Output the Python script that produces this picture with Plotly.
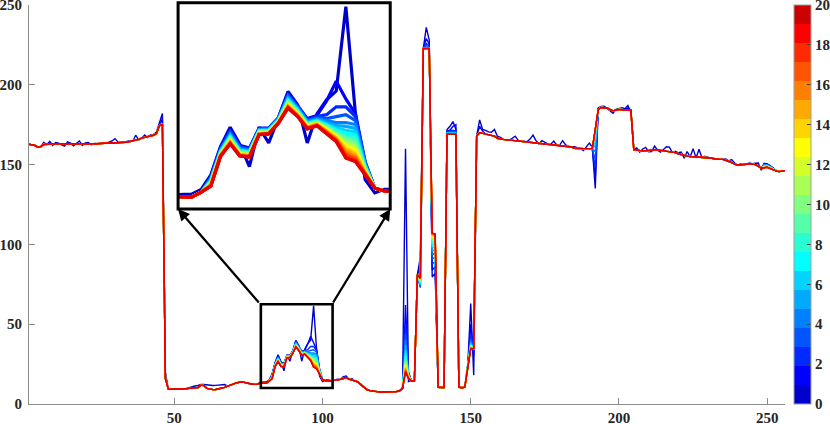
import plotly.graph_objects as go

# ---------------- data ----------------
X_VALUES = list(range(1, 257))

# final iteration (iteration 20, red line)
FINAL_SERIES = [
    162.8, 162.6, 162.0, 160.9, 161.3, 162.6, 163.0, 163.0, 163.1, 163.0,
    163.0, 163.1, 163.0, 163.0, 163.1, 163.0, 163.0, 163.0, 163.0, 163.1,
    163.0, 163.0, 163.1, 163.1, 163.2, 163.4, 163.5, 163.6, 163.6, 163.5,
    163.6, 163.8, 164.0, 164.2, 164.5, 164.8, 165.2, 165.8, 166.6, 167.2,
    167.6, 168.0, 168.4, 169.5, 174.5, 175.0, 16.0, 9.3, 9.2, 9.2,
    9.2, 9.3, 9.3, 9.6, 9.9, 10.0, 10.1, 10.3, 11.8, 11.5,
    9.8, 9.2, 9.0, 9.1, 9.4, 9.7, 10.4, 11.2, 12.0, 12.6,
    13.2, 13.6, 13.8, 13.4, 12.8, 12.5, 12.3, 12.4, 13.2, 13.2,
    13.0, 14.3, 15.8, 23.4, 26.6, 23.5, 23.2, 28.9, 29.1, 31.8,
    35.7, 33.5, 30.4, 31.2, 29.3, 27.2, 23.0, 22.1, 18.7, 15.3,
    14.6, 14.4, 14.4, 14.8, 15.0, 15.4, 16.0, 16.5, 15.6, 14.9,
    14.3, 13.8, 12.0, 10.2, 9.0, 8.4, 8.0, 7.8, 7.6, 7.5,
    7.5, 7.5, 7.5, 7.6, 7.8, 8.2, 9.6, 20.0, 16.0, 14.6,
    14.5, 81.0, 79.0, 222.7, 222.7, 222.7, 107.0, 106.5, 10.5, 10.2,
    10.3, 169.0, 169.0, 169.0, 169.0, 10.5, 10.2, 10.5, 24.0, 34.7,
    34.7, 168.0, 170.0, 169.5, 169.0, 168.6, 168.3, 167.8, 166.5, 166.0,
    165.8, 165.6, 165.4, 165.3, 165.2, 165.0, 164.8, 164.6, 164.4, 164.2,
    164.0, 163.8, 163.6, 163.4, 163.2, 163.0, 162.8, 162.6, 162.4, 162.2,
    161.6, 161.5, 161.5, 161.0, 160.2, 160.0, 160.0, 160.0, 160.0, 160.0,
    160.0, 172.0, 184.5, 185.8, 185.8, 185.5, 184.4, 183.7, 184.2, 184.6,
    184.4, 184.4, 184.4, 184.2, 159.4, 159.0, 158.8, 158.7, 158.6, 158.8,
    159.1, 159.4, 159.2, 158.9, 158.7, 158.6, 158.3, 158.0, 157.5, 156.8,
    156.2, 155.6, 155.3, 155.1, 155.0, 154.9, 154.7, 154.6, 154.5, 154.4,
    154.1, 153.7, 153.3, 153.3, 153.3, 152.8, 152.1, 151.2, 150.2, 149.6,
    149.9, 150.2, 150.3, 150.4, 150.3, 150.0, 149.0, 147.7, 148.0, 148.3,
    147.5, 146.6, 146.1, 145.6, 145.8, 146.2,
]

# values of iterations 0..19 at the positions where the iterations differ
ITERATION_PROFILES = {
    83: [18.7, 18.4, 18.1, 17.9, 17.7, 17.5, 17.3, 17.1, 17.0, 16.9, 16.7, 16.6, 16.5, 16.4, 16.3, 16.2, 16.1, 16.0, 15.9, 15.85],
    84: [25.9, 25.6, 25.4, 25.2, 25.0, 24.8, 24.7, 24.5, 24.4, 24.3, 24.2, 24.1, 24.0, 23.9, 23.8, 23.7, 23.6, 23.5, 23.45, 23.4],
    85: [30.8, 30.2, 29.8, 29.4, 29.1, 28.8, 28.6, 28.4, 28.2, 28.0, 27.8, 27.6, 27.5, 27.3, 27.2, 27.0, 26.9, 26.8, 26.7, 26.6],
    86: [26.5, 26.2, 25.9, 25.6, 25.4, 25.2, 25.0, 24.8, 24.6, 24.5, 24.4, 24.3, 24.1, 24.0, 23.9, 23.8, 23.7, 23.6, 23.55, 23.5],
    87: [20.8, 25.5, 25.3, 25.1, 24.9, 24.8, 24.6, 24.5, 24.4, 24.2, 24.1, 24.0, 23.9, 23.8, 23.7, 23.6, 23.5, 23.4, 23.3, 23.2],
    88: [30.8, 30.6, 30.4, 30.3, 30.2, 30.1, 30.0, 29.9, 29.8, 29.7, 29.6, 29.5, 29.4, 29.3, 29.2, 29.15, 29.1, 29.0, 28.95, 28.9],
    89: [26.8, 30.6, 30.5, 30.4, 30.3, 30.2, 30.1, 30.0, 29.9, 29.8, 29.7, 29.6, 29.5, 29.45, 29.4, 29.3, 29.25, 29.2, 29.15, 29.1],
    90: [33.2, 33.2, 33.1, 33.0, 32.9, 32.8, 32.7, 32.6, 32.5, 32.4, 32.3, 32.2, 32.1, 32.05, 32.0, 31.95, 31.9, 31.85, 31.8, 31.8],
    91: [39.9, 39.5, 39.1, 38.8, 38.5, 38.2, 37.9, 37.7, 37.5, 37.3, 37.1, 36.9, 36.7, 36.5, 36.4, 36.2, 36.1, 35.9, 35.8, 35.7],
    92: [36.5, 36.3, 36.1, 35.9, 35.7, 35.5, 35.3, 35.1, 34.9, 34.8, 34.6, 34.5, 34.3, 34.2, 34.0, 33.9, 33.8, 33.7, 33.6, 33.5],
    93: [26.8, 33.0, 32.7, 32.5, 32.3, 32.1, 31.9, 31.8, 31.6, 31.5, 31.4, 31.3, 31.1, 31.0, 30.9, 30.8, 30.7, 30.6, 30.5, 30.4],
    94: [34.2, 33.8, 33.5, 33.2, 33.0, 32.8, 32.6, 32.4, 32.3, 32.2, 32.0, 31.9, 31.8, 31.7, 31.6, 31.5, 31.4, 31.35, 31.3, 31.2],
    95: [37.8, 37.5, 34.0, 33.0, 32.5, 32.0, 31.7, 31.4, 31.2, 31.0, 30.8, 30.6, 30.4, 30.2, 30.0, 29.9, 29.7, 29.6, 29.4, 29.3],
    96: [40.0, 42.5, 36.0, 33.5, 32.0, 31.2, 30.6, 30.1, 29.7, 29.4, 29.1, 28.8, 28.6, 28.4, 28.2, 28.0, 27.8, 27.6, 27.4, 27.2],
    97: [61.5, 38.0, 36.0, 34.0, 32.0, 31.0, 30.0, 29.3, 28.7, 28.1, 27.5, 27.0, 26.5, 26.0, 25.5, 25.0, 24.5, 24.0, 23.5, 23.0],
    98: [34.0, 34.2, 33.5, 32.5, 31.5, 30.5, 29.6, 28.8, 28.0, 27.3, 26.6, 26.0, 25.4, 24.8, 24.3, 23.8, 23.3, 22.9, 22.5, 22.1],
    99: [17.5, 22.0, 21.8, 21.6, 21.4, 21.2, 21.0, 20.8, 20.6, 20.4, 20.2, 20.0, 19.8, 19.6, 19.4, 19.3, 19.1, 19.0, 18.8, 18.7],
    128: [160.0, 62.0, 50.0, 44.0, 40.0, 37.0, 34.0, 32.0, 30.0, 28.5, 27.0, 26.0, 25.0, 24.0, 23.0, 22.5, 21.8, 21.2, 20.6, 20.0],
    129: [14.0, 20.0, 19.5, 19.0, 18.8, 18.5, 18.2, 18.0, 17.8, 17.6, 17.4, 17.2, 17.0, 16.8, 16.6, 16.5, 16.3, 16.2, 16.1, 16.0],
    133: [92.0, 86.0, 73.0, 73.5, 74.0, 74.5, 75.0, 75.5, 76.0, 76.4, 76.8, 77.2, 77.5, 77.8, 78.1, 78.3, 78.5, 78.7, 78.9, 79.0],
    135: [236.0, 229.0, 226.0, 224.5, 223.6, 223.2, 223.0, 222.9, 222.8, 222.8, 222.7, 222.7, 222.7, 222.7, 222.7, 222.7, 222.7, 222.7, 222.7, 222.7],
    136: [228.0, 225.5, 224.2, 223.5, 223.1, 222.9, 222.8, 222.8, 222.7, 222.7, 222.7, 222.7, 222.7, 222.7, 222.7, 222.7, 222.7, 222.7, 222.7, 222.7],
    137: [79.6, 84.0, 88.0, 91.0, 94.0, 96.0, 98.0, 99.5, 100.8, 102.0, 103.0, 103.8, 104.5, 105.0, 105.5, 106.0, 106.3, 106.6, 106.8, 107.0],
    138: [82.0, 86.0, 89.0, 92.0, 94.5, 96.5, 98.2, 99.7, 101.0, 102.0, 103.0, 103.7, 104.3, 104.8, 105.3, 105.7, 106.0, 106.2, 106.4, 106.5],
    142: [172.0, 171.0, 170.5, 170.2, 170.0, 169.8, 169.6, 169.5, 169.4, 169.3, 169.2, 169.2, 169.1, 169.1, 169.0, 169.0, 169.0, 169.0, 169.0, 169.0],
    143: [174.0, 171.5, 170.8, 170.4, 170.1, 169.9, 169.7, 169.5, 169.4, 169.3, 169.2, 169.2, 169.1, 169.1, 169.0, 169.0, 169.0, 169.0, 169.0, 169.0],
    144: [177.0, 174.0, 171.5, 170.8, 170.3, 170.0, 169.8, 169.6, 169.4, 169.3, 169.2, 169.2, 169.1, 169.1, 169.0, 169.0, 169.0, 169.0, 169.0, 169.0],
    145: [172.0, 175.0, 171.0, 170.5, 170.2, 169.9, 169.7, 169.5, 169.4, 169.3, 169.2, 169.2, 169.1, 169.1, 169.0, 169.0, 169.0, 169.0, 169.0, 169.0],
    150: [63.0, 50.0, 44.0, 41.0, 39.5, 38.5, 37.8, 37.2, 36.8, 36.4, 36.1, 35.8, 35.6, 35.4, 35.2, 35.1, 35.0, 34.9, 34.8, 34.7],
    151: [18.0, 30.0, 33.0, 34.0, 34.3, 34.5, 34.6, 34.7, 34.7, 34.7, 34.7, 34.7, 34.7, 34.7, 34.7, 34.7, 34.7, 34.7, 34.7, 34.7],
    192: [135.0, 142.0, 148.0, 153.0, 158.0, 162.0, 165.0, 167.5, 169.0, 170.0, 170.8, 171.3, 171.6, 171.8, 171.9, 172.0, 172.0, 172.0, 172.0, 172.0],
    249: [150.8, 150.5, 150.2, 150.0, 149.8, 149.6, 149.4, 149.2, 149.0, 148.9, 148.8, 148.6, 148.5, 148.4, 148.3, 148.2, 148.1, 148.1, 148.0, 148.0],
    250: [150.5, 150.3, 150.1, 149.9, 149.7, 149.5, 149.4, 149.2, 149.1, 149.0, 148.9, 148.8, 148.7, 148.6, 148.5, 148.5, 148.4, 148.4, 148.3, 148.3],
    251: [149.5, 149.3, 149.1, 148.9, 148.7, 148.6, 148.4, 148.3, 148.2, 148.1, 148.0, 147.9, 147.8, 147.8, 147.7, 147.7, 147.6, 147.6, 147.5, 147.5],
    252: [148.0, 147.9, 147.8, 147.7, 147.6, 147.5, 147.4, 147.3, 147.2, 147.1, 147.0, 147.0, 146.9, 146.9, 146.8, 146.8, 146.7, 146.7, 146.6, 146.6],
}

# noisy first iteration (iteration 0, dark blue)
ITER0_NOISE = {
    6: 164.0, 7: 162.4, 8: 164.5, 9: 162.0, 10: 163.8, 11: 163.5, 12: 162.3, 13: 161.6,
    14: 164.2, 15: 163.4, 16: 161.8, 17: 163.5, 18: 164.8, 19: 162.0, 20: 163.6, 21: 163.8,
    22: 162.4, 23: 163.2, 28: 164.0, 29: 164.8, 30: 166.3, 31: 164.2, 33: 163.6, 34: 164.6,
    35: 165.0, 36: 164.8, 37: 168.4, 38: 165.4, 39: 166.4, 40: 168.6, 41: 167.0, 42: 168.6,
    43: 168.8, 44: 170.4, 45: 176.0, 46: 182.0, 47: 20.0,
    55: 10.3, 56: 10.9, 57: 11.3, 58: 11.6, 59: 12.2, 60: 12.2, 61: 11.9, 62: 11.7,
    63: 11.6, 64: 11.7, 65: 11.8, 66: 12.0, 67: 12.2,
    79: 13.6, 80: 13.6, 81: 13.8, 82: 15.0,
    100: 14.1, 101: 15.0, 102: 15.0, 103: 14.6, 105: 15.6, 107: 17.2, 108: 17.6, 109: 15.2, 110: 15.8,
    127: 10.5,
    153: 178.0, 154: 172.0, 155: 171.5, 156: 170.5, 157: 170.3, 158: 172.0, 159: 167.8, 160: 167.0,
    164: 166.5, 165: 167.8, 166: 165.2, 170: 166.0, 171: 168.5, 172: 165.0, 173: 163.0, 174: 165.0,
    175: 164.0, 178: 164.8, 179: 162.3, 181: 165.0, 182: 162.3, 185: 161.2, 186: 160.6, 187: 160.0,
    188: 158.8, 189: 161.2, 190: 163.5, 191: 161.0,
    193: 185.5, 194: 186.5, 195: 186.6, 196: 185.2, 197: 184.0, 198: 182.2, 199: 184.6, 200: 185.0,
    201: 185.7, 202: 185.0, 203: 187.0, 204: 183.0,
    206: 160.4, 207: 157.8, 208: 159.8, 209: 160.8, 210: 158.0, 211: 158.2, 212: 161.6, 213: 159.0,
    214: 157.8, 215: 159.5, 216: 161.2, 217: 161.0, 218: 157.6, 219: 158.4, 220: 157.4, 221: 157.8,
    222: 154.0, 223: 158.2, 224: 154.8, 225: 160.0, 226: 154.2, 227: 159.6, 228: 154.2, 229: 155.2,
    232: 154.0, 236: 153.5, 237: 152.4, 238: 153.2, 239: 151.0, 241: 150.4, 244: 151.0, 245: 150.6,
    246: 150.8, 247: 151.0, 248: 146.4,
}
ITER1_NOISE = {45: 175.2, 46: 178.5, 153: 174.0, 154: 171.0, 193: 185.0, 194: 186.2, 203: 185.5}

COLORBAR_TICKS = [0, 2, 4, 6, 8, 10, 12, 14, 16, 18, 20]
X_TICKS = [50, 100, 150, 200, 250]
Y_TICKS = [0, 50, 100, 150, 200, 250]
ZOOM_BOX_X = [79.2, 103.4]
ZOOM_BOX_Y = [10.0, 62.5]
INSET_X_RANGE = [79.6, 101.6]
INSET_Y_RANGE = [10.0, 61.9]

# ---------------- style ----------------
JET21 = ['#0000CC', '#0000FF', '#002AFF', '#0055FF', '#0080FF', '#00AAFF', '#00D4FF',
         '#00FFFF', '#2AFFD4', '#55FFAA', '#80FF80', '#AAFF55', '#D4FF2A', '#FFFF00',
         '#FFD400', '#FFAA00', '#FF8000', '#FF5500', '#FF2A00', '#FF0000', '#CC0000']
LINE_COLORS = JET21[:-1] + ['#E60000']

FONT = dict(family='Liberation Serif', size=15, color='#262626', weight='bold')
AXIS_GRAY = '#8c8c8c'

# ---------------- build series ----------------
n_iter = len(JET21)
series = [list(FINAL_SERIES) for _ in range(n_iter)]
for xv, row in ITERATION_PROFILES.items():
    for k, v in enumerate(row):
        series[k][xv - 1] = v
for xv, v in ITER0_NOISE.items():
    series[0][xv - 1] = v
for xv, v in ITER1_NOISE.items():
    series[1][xv - 1] = v

fig = go.Figure()
for k in range(n_iter):
    fig.add_trace(go.Scatter(x=X_VALUES, y=series[k], mode='lines',
                             line=dict(color=LINE_COLORS[k], width=1.4),
                             showlegend=False, hoverinfo='skip',
                             xaxis='x', yaxis='y'))
for k in range(n_iter):
    fig.add_trace(go.Scatter(x=X_VALUES, y=series[k], mode='lines',
                             line=dict(color=LINE_COLORS[k], width=3.2),
                             showlegend=False, hoverinfo='skip',
                             xaxis='x2', yaxis='y2'))

# colorbar carrier
scale = []
for i, c in enumerate(JET21):
    scale.append([i / n_iter, c])
    scale.append([(i + 1) / n_iter, c])
fig.add_trace(go.Scatter(
    x=[X_VALUES[0]], y=[-50], mode='markers', showlegend=False, hoverinfo='skip',
    marker=dict(size=1, opacity=0, color=[0], colorscale=scale, cmin=0, cmax=20,
                showscale=True,
                colorbar=dict(tickvals=COLORBAR_TICKS, ticks='inside', ticklen=4,
                              tickcolor='#404040', tickwidth=1,
                              thickness=17, thicknessmode='pixels',
                              len=1.0, lenmode='fraction', y=0.5, yanchor='middle',
                              x=1.0119, xanchor='left', xpad=0, ypad=0,
                              outlinewidth=1, outlinecolor='#a0a0a0',
                              ticklabeloverflow='allow',
                              tickfont=dict(family='Liberation Serif', size=15,
                                            color='#262626', weight='bold'))),
    xaxis='x', yaxis='y'))

fig.update_layout(
    width=830, height=424, template='none',
    margin=dict(l=29, r=45, t=5, b=20, pad=0, autoexpand=False),
    paper_bgcolor='white', plot_bgcolor='white',
    font=FONT,
    xaxis=dict(domain=[0, 1], range=[1, 256], autorange=False, tickvals=X_TICKS,
               ticks='inside', ticklen=6, tickcolor=AXIS_GRAY, tickwidth=1,
               showline=True, linecolor=AXIS_GRAY, linewidth=1, mirror=False,
               showgrid=False, zeroline=False, tickfont=FONT, automargin=False,
               ticklabelstandoff=0, ticklabeloverflow='allow'),
    yaxis=dict(domain=[0, 1], range=[0, 250], autorange=False, tickvals=Y_TICKS,
               ticks='inside', ticklen=6, tickcolor=AXIS_GRAY, tickwidth=1,
               showline=True, linecolor=AXIS_GRAY, linewidth=1, mirror=False,
               showgrid=False, zeroline=False, tickfont=FONT, automargin=False,
               ticklabelstandoff=3, ticklabeloverflow='allow'),
    xaxis2=dict(domain=[0.1972, 0.4778], range=INSET_X_RANGE, autorange=False,
                anchor='y2', visible=False),
    yaxis2=dict(domain=[0.4887, 1.0], range=INSET_Y_RANGE, autorange=False,
                anchor='x2', visible=False),
    shapes=[
        dict(type='rect', xref='paper', yref='paper', x0=0.1972, x1=0.4778,
             y0=0.4887, y1=1.0058, line=dict(color='black', width=3),
             fillcolor='rgba(0,0,0,0)', layer='above'),
        dict(type='rect', xref='x', yref='y', x0=ZOOM_BOX_X[0], x1=ZOOM_BOX_X[1],
             y0=ZOOM_BOX_Y[0], y1=ZOOM_BOX_Y[1], line=dict(color='black', width=2.6),
             fillcolor='rgba(0,0,0,0)', layer='above'),
    ],
    annotations=[
        dict(x=0.1972, y=0.4887, xref='paper', yref='paper', text='',
             showarrow=True, ax=82, ay=95, axref='pixel', ayref='pixel',
             arrowhead=2, arrowsize=1.0, arrowwidth=2.3, arrowcolor='black',
             standoff=0, startstandoff=0),
        dict(x=0.4778, y=0.4887, xref='paper', yref='paper', text='',
             showarrow=True, ax=-58, ay=95, axref='pixel', ayref='pixel',
             arrowhead=2, arrowsize=1.0, arrowwidth=2.3, arrowcolor='black',
             standoff=0, startstandoff=0),
    ],
)

fig.write_html('out.html',
               config={'displayModeBar': False},
               post_script="document.body.style.margin='0';document.body.style.overflow='hidden';")
